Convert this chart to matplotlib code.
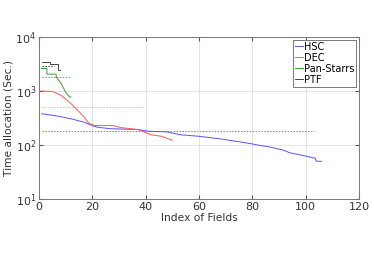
import numpy as np
import matplotlib
matplotlib.use("Agg")
import matplotlib.pyplot as plt

# =========================
# DATA
# =========================
hsc_x = [1, 7, 12, 17, 20, 22, 27, 37, 41, 48, 53, 60, 68, 75, 79, 82, 86, 91.5, 94, 99.7, 103.5, 104.1, 106]
hsc_y = [380, 343, 306, 264, 229, 213, 200, 194, 180, 175, 155, 145, 130, 115, 107, 100, 93, 81, 72, 63, 57, 50, 50]
hsc_mean = 180

dec_x = [1, 5, 8.4, 12, 14.6, 17, 18.4, 19.6, 21, 28, 30.8, 37, 38, 42, 46, 49.7, 50]
dec_y = [1000, 980, 830, 585, 437, 330, 263, 240, 230, 228, 210, 194, 187, 155, 145, 124, 124]
dec_mean = 500

ps_x = [1, 3, 3, 6.5, 6.5, 7.4, 8.3, 9, 10.2, 11.5, 12]
ps_y = [2610, 2610, 2050, 2050, 1800, 1590, 1380, 1180, 920, 775, 775]
ps_mean = 1850

ptf_x = [1, 4, 4, 7, 7, 8]
ptf_y = [3500, 3500, 3100, 3100, 2400, 2400]
ptf_mean = 2950

# =========================
# PLOT
# =========================
plt.rcParams['font.family'] = 'DejaVu Sans'
plt.rcParams['font.size'] = 8

fig = plt.figure(figsize=(3.74, 2.64), dpi=100)
ax = fig.add_axes([0.104, 0.246, 0.856, 0.614])

c_hsc, c_dec, c_ps, c_ptf = "#5555ff", "#ff5555", "#3a9a3a", "#444444"

ax.plot(hsc_x, hsc_y, color=c_hsc, lw=0.7, label="HSC")
ax.plot(dec_x, dec_y, color=c_dec, lw=0.7, label="DEC")
ax.plot(ps_x, ps_y, color=c_ps, lw=0.7, label="Pan-Starrs")
ax.plot(ptf_x, ptf_y, color=c_ptf, lw=0.7, label="PTF")

ax.plot([1, hsc_x[-1] - 3], [hsc_mean] * 2, color=c_hsc, lw=0.7, ls=(0, (1.5, 1.5)), alpha=0.8)
ax.plot([1, 39], [dec_mean] * 2, color=c_dec, lw=0.7, ls=(0, (1.5, 1.5)), alpha=0.5)
ax.plot([1, 11.5], [ps_mean] * 2, color=c_ps, lw=0.7, ls=(0, (1.5, 1.5)), alpha=0.8)
ax.plot([1, 5.5], [ptf_mean] * 2, color=c_ptf, lw=0.7, ls=(0, (1.5, 1.5)))

ax.set_yscale("log")
ax.set_xlim(0, 120)
ax.set_ylim(10, 1e4)
ax.set_xticks(range(0, 121, 20))
ax.grid(True, color="#e0e0e0", lw=0.6)
ax.minorticks_off()
ax.tick_params(direction="in", top=True, right=True, length=3, color="#555555",
               labelcolor="#333333", pad=2)
for s in ax.spines.values():
    s.set_color("#777777")
    s.set_linewidth(0.7)

ax.set_xlabel("Index of Fields", color="#333333", labelpad=1, fontsize=7.7)
ax.set_ylabel("Time allocation (Sec.)", color="#333333", labelpad=1, fontsize=7.7)

leg = ax.legend(loc="upper right", fontsize=7, handlelength=0.8, handletextpad=0.1,
                borderpad=0.2, labelspacing=0.1, borderaxespad=0.3, fancybox=False,
                framealpha=1)
leg.get_frame().set_edgecolor("#777777")
leg.get_frame().set_linewidth(0.7)

fig.savefig("out.png", dpi=100)
